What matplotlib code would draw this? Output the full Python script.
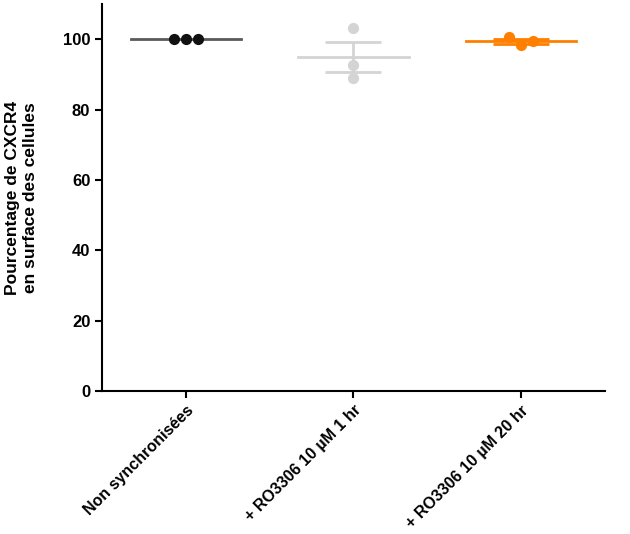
import matplotlib
matplotlib.use("Agg")
import matplotlib.pyplot as plt
import numpy as np

plt.rcParams["font.family"] = ["Liberation Sans", "DejaVu Sans"]
plt.rcParams["font.weight"] = "bold"

categories = ["Non synchronisées", "+ RO3306 10 µM 1 hr", "+ RO3306 10 µM 20 hr"]
values = [
    [100.0, 100.0, 100.0],
    [103.1, 92.6, 88.9],
    [100.6, 98.3, 99.4],
]
jitter = [
    [-0.07, 0.0, 0.07],
    [0.0, 0.0, 0.0],
    [-0.07, 0.0, 0.07],
]
point_colors = ["#111111", "#d4d4d4", "#ff8000"]
line_colors = ["#5a5a5a", "#d4d4d4", "#ff8000"]

fig = plt.figure(figsize=(6.3, 5.34), dpi=100)
ax = fig.add_axes([0.162, 0.268, 0.798, 0.7245])

for i, vals in enumerate(values):
    vals = np.array(vals)
    mean = vals.mean()
    sem = vals.std(ddof=1) / np.sqrt(len(vals))
    ax.plot([i - 0.33, i + 0.33], [mean, mean], color=line_colors[i], lw=2, zorder=2)
    if sem > 0:
        ax.errorbar(i, mean, yerr=sem, color=line_colors[i], capsize=20,
                    elinewidth=2, capthick=2, fmt="none", zorder=2)
    ax.scatter(i + np.array(jitter[i]), vals, s=65, color=point_colors[i],
               zorder=3, linewidths=0)

ax.set_xlim(-0.5, 2.5)
ax.set_ylim(0, 110)
ax.set_yticks([0, 20, 40, 60, 80, 100])
ax.set_xticks(range(len(categories)))
ax.set_xticklabels(categories, rotation=45, ha="right", rotation_mode="anchor",
                   fontsize=11.5, fontweight="bold")
ax.tick_params(axis="y", labelsize=12, width=1.5, length=5)
ax.tick_params(axis="x", width=1.5, length=5)
for lbl in ax.get_yticklabels():
    lbl.set_fontweight("bold")
ax.spines["top"].set_visible(False)
ax.spines["right"].set_visible(False)
ax.spines["left"].set_linewidth(1.5)
ax.spines["bottom"].set_linewidth(1.5)
ax.set_ylabel("Pourcentage de CXCR4\nen surface des cellules", fontsize=12.5,
              fontweight="bold", labelpad=18)

plt.savefig("out.png", dpi=100)
